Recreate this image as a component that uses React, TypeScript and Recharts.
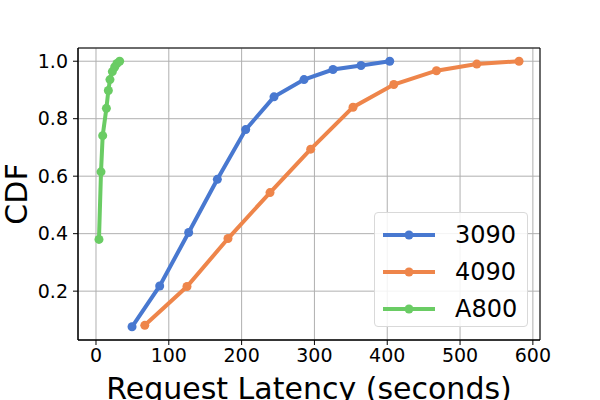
import { LineChart, Line, XAxis, YAxis, CartesianGrid, Legend, ReferenceArea } from 'recharts';

// request latency (seconds) vs CDF
const latency3090 = [49.5, 87.5, 127.3, 166.7, 205.6, 244.5, 285.7, 325.5, 364, 403.4];
const cdf3090 = [0.076, 0.218, 0.404, 0.589, 0.762, 0.876, 0.936, 0.971, 0.985, 1.0];

const latency4090 = [67, 125, 181.3, 239, 294.9, 353, 409, 467.6, 523, 581];
const cdf4090 = [0.081, 0.216, 0.383, 0.543, 0.694, 0.84, 0.919, 0.967, 0.99, 1.0];

const latencyA800 = [4.1, 6.9, 9.2, 14.3, 17, 19.2, 22.5, 25.7, 28.8, 32.5];
const cdfA800 = [0.38, 0.615, 0.741, 0.836, 0.898, 0.936, 0.964, 0.98, 0.992, 1.0];

const xTicks = [0, 100, 200, 300, 400, 500, 600];
const yTicks = [0.2, 0.4, 0.6, 0.8, 1.0];

const xDomain: [number, number] = [-24.7, 609.8];
const yDomain: [number, number] = [0.03, 1.046];

const FONT = '"DejaVu Sans", sans-serif';

const toPoints = (xs: number[], ys: number[]) => xs.map((x, i) => ({ x, y: ys[i] }));

const series = [
  { name: '3090', color: '#4878d0', data: toPoints(latency3090, cdf3090) },
  { name: '4090', color: '#ee854a', data: toPoints(latency4090, cdf4090) },
  { name: 'A800', color: '#6acc64', data: toPoints(latencyA800, cdfA800) },
];

function LegendBox({ payload }: any) {
  return (
    <div
      style={{
        boxSizing: 'border-box',
        width: 154,
        height: 115,
        border: '1px solid #d9d9d9',
        borderRadius: 4,
        background: 'rgba(255,255,255,0.85)',
        padding: '3px 0 0 7px',
        fontFamily: FONT,
      }}
    >
      {(payload || []).map((p: any) => (
        <div key={p.value} style={{ display: 'flex', alignItems: 'center', height: 37 }}>
          <svg width={54} height={12} style={{ display: 'block' }}>
            <line x1={1} y1={6} x2={53} y2={6} stroke={p.color} strokeWidth={4} />
            <circle cx={27} cy={6} r={4.5} fill={p.color} />
          </svg>
          <span style={{ marginLeft: 19, fontSize: 24, color: '#000' }}>{p.value}</span>
        </div>
      ))}
    </div>
  );
}

export default function App() {
  return (
    <div style={{ position: 'absolute', left: 0, top: 0, width: 600, height: 400, background: '#fff' }}>
      <LineChart width={600} height={400} margin={{ top: 48, right: 60, bottom: 0, left: 0 }}>
        <CartesianGrid stroke="#b0b0b0" strokeWidth={1} ticks={undefined} />
        <XAxis
          type="number"
          dataKey="x"
          domain={xDomain}
          allowDataOverflow
          ticks={xTicks}
          height={60}
          tickSize={5}
          tickMargin={4}
          axisLine={{ stroke: '#000' }}
          tickLine={{ stroke: '#000' }}
          tick={{ fill: '#000', fontSize: 19, fontFamily: FONT }}
          label={(props: any) => {
            const vb = props.viewBox || {};
            return (
              <text
                x={vb.x + vb.width / 2}
                y={vb.y + 58.5}
                textAnchor="middle"
                fontSize={30}
                fontFamily={FONT}
                fill="#000"
              >
                Request Latency (seconds)
              </text>
            );
          }}
        />
        <YAxis
          type="number"
          dataKey="y"
          domain={yDomain}
          allowDataOverflow
          ticks={yTicks}
          width={78}
          tickSize={5}
          tickMargin={5}
          tickFormatter={(v: number) => v.toFixed(1)}
          axisLine={{ stroke: '#000' }}
          tickLine={{ stroke: '#000' }}
          tick={{ fill: '#000', fontSize: 19, fontFamily: FONT }}
          label={(props: any) => {
            const vb = props.viewBox || {};
            const cy = vb.y + vb.height / 2;
            return (
              <text
                x={27}
                y={cy}
                transform={`rotate(-90, 27, ${cy})`}
                textAnchor="middle"
                fontSize={30}
                fontFamily={FONT}
                fill="#000"
              >
                CDF
              </text>
            );
          }}
        />
        <ReferenceArea
          x1={xDomain[0]}
          x2={xDomain[1]}
          y1={yDomain[0]}
          y2={yDomain[1]}
          fill="none"
          stroke="#000"
          strokeWidth={1}
          ifOverflow="visible"
        />
        {series.map((s) => (
          <Line
            key={s.name}
            name={s.name}
            data={s.data}
            dataKey="y"
            type="linear"
            stroke={s.color}
            strokeWidth={4}
            dot={{ r: 4.5, fill: s.color, stroke: 'none' }}
            activeDot={false}
            isAnimationActive={false}
          />
        ))}
        <Legend
          layout="vertical"
          align="center"
          verticalAlign="middle"
          wrapperStyle={{ left: 374, top: 212, width: 154, height: 115 }}
          content={(props: any) => <LegendBox payload={props.payload} />}
        />
      </LineChart>
    </div>
  );
}
